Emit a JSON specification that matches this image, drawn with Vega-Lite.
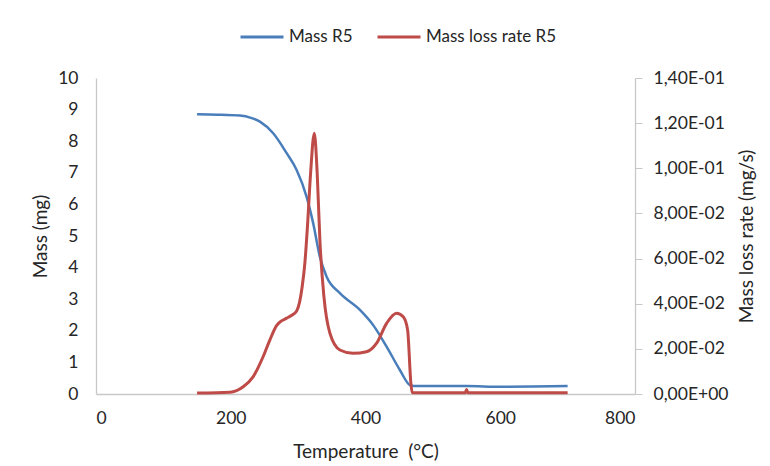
{
  "$schema": "https://vega.github.io/schema/vega-lite/v6.json",
  "autosize": {"type": "none"},
  "width": 539,
  "height": 316,
  "padding": {"left": 96, "top": 78, "right": 135, "bottom": 72},
  "background": "white",
  "config": {
    "view": {"stroke": null},
    "font": "Lato",
    "axis": {"grid": false, "domainColor": "#C8C8C8", "domainWidth": 1.3, "tickColor": "#C8C8C8", "labelFont": "Lato", "titleFont": "Lato", "labelColor": "#262626", "titleColor": "#262626", "labelFontSize": 17.5, "titleFontSize": 19, "titleFontWeight": "normal"},
    "legend": {"labelFont": "Lato", "labelFontSize": 17, "labelColor": "#262626"}
  },
  "datasets": {
    "massR5": [
      {"T": 150, "mass": 8.85}, {"T": 180, "mass": 8.84}, {"T": 213.6, "mass": 8.81}, {"T": 230, "mass": 8.74},
      {"T": 243.3, "mass": 8.62}, {"T": 263, "mass": 8.25}, {"T": 283, "mass": 7.62}, {"T": 297.8, "mass": 7.09},
      {"T": 312.6, "mass": 6.24}, {"T": 322.4, "mass": 5.4}, {"T": 332.3, "mass": 4.34}, {"T": 342.3, "mass": 3.71},
      {"T": 362, "mass": 3.19}, {"T": 391.7, "mass": 2.66}, {"T": 411.4, "mass": 2.18}, {"T": 431.3, "mass": 1.5},
      {"T": 451, "mass": 0.76}, {"T": 465.9, "mass": 0.28}, {"T": 472, "mass": 0.25}, {"T": 550, "mass": 0.25},
      {"T": 600, "mass": 0.23}, {"T": 650, "mass": 0.24}, {"T": 700, "mass": 0.25}
    ],
    "rateR5": [
      {"T": 150, "rate": 0.0004}, {"T": 199, "rate": 0.0008}, {"T": 218.5, "rate": 0.0032}, {"T": 233.4, "rate": 0.0077},
      {"T": 248, "rate": 0.0165}, {"T": 258, "rate": 0.0239}, {"T": 268, "rate": 0.0303}, {"T": 276, "rate": 0.0325},
      {"T": 283, "rate": 0.0336}, {"T": 290, "rate": 0.0348}, {"T": 297.8, "rate": 0.0368}, {"T": 302, "rate": 0.0405},
      {"T": 306, "rate": 0.0475}, {"T": 310, "rate": 0.058}, {"T": 314, "rate": 0.075}, {"T": 318.5, "rate": 0.0978},
      {"T": 324, "rate": 0.1155}, {"T": 328.3, "rate": 0.0978}, {"T": 332.3, "rate": 0.0682}, {"T": 338.3, "rate": 0.0431},
      {"T": 347.2, "rate": 0.0269}, {"T": 362, "rate": 0.0195}, {"T": 381.7, "rate": 0.018}, {"T": 401.6, "rate": 0.0187},
      {"T": 416.5, "rate": 0.0225}, {"T": 431.3, "rate": 0.0313}, {"T": 446, "rate": 0.0358}, {"T": 456, "rate": 0.0342},
      {"T": 462.5, "rate": 0.0284}, {"T": 467.4, "rate": 0.0047}, {"T": 469.3, "rate": 0.0006}, {"T": 548, "rate": 0.0006},
      {"T": 550, "rate": 0.002}, {"T": 552, "rate": 0.0006}, {"T": 700, "rate": 0.0006}
    ]
  },
  "encoding": {
    "x": {"field": "T", "type": "quantitative", "scale": {"domain": [0, 800], "nice": false},
      "axis": {"values": [0, 200, 400, 600, 800], "ticks": false, "tickSize": 0, "labelPadding": 15, "title": "Temperature\u00a0 (°C)", "titlePadding": 16}}
  },
  "layer": [
    {
      "data": {"name": "massR5"},
      "mark": {"type": "line", "strokeWidth": 2.5, "interpolate": "monotone"},
      "encoding": {
        "y": {"field": "mass", "type": "quantitative", "scale": {"domain": [0, 10], "nice": false},
          "axis": {"orient": "left", "values": [0,1,2,3,4,5,6,7,8,9,10], "ticks": false, "tickSize": 0, "labelPadding": 18, "title": "Mass (mg)", "titlePadding": 7}},
        "color": {"datum": "Mass R5", "type": "nominal",
          "scale": {"domain": ["Mass R5", "Mass loss rate R5"], "range": ["#4A7EBB", "#BE4B48"]},
          "legend": {"title": null, "orient": "none", "direction": "horizontal", "legendX": 143, "legendY": -64, "symbolType": "stroke", "symbolSize": 1849, "symbolStrokeWidth": 3, "labelOffset": 4, "columnPadding": 18}}
      }
    },
    {
      "data": {"name": "rateR5"},
      "mark": {"type": "line", "strokeWidth": 3, "interpolate": "monotone"},
      "encoding": {
        "y": {"field": "rate", "type": "quantitative", "scale": {"domain": [0, 0.14], "nice": false},
          "axis": {"orient": "right", "values": [0, 0.02, 0.04, 0.06, 0.08, 0.1, 0.12, 0.14], "tickSize": 7, "labelPadding": 11,
            "labelExpr": "datum.value == 0 ? '0,00E+00' : (datum.value < 0.099 ? replace(format(datum.value*100, '.2f'), '.', ',') + 'E-02' : replace(format(datum.value*10, '.2f'), '.', ',') + 'E-01')",
            "title": "Mass loss rate (mg/s)", "titleAngle": 270, "titleBaseline": "top", "titlePadding": 10}},
        "color": {"datum": "Mass loss rate R5", "type": "nominal"}
      }
    }
  ],
  "resolve": {"scale": {"y": "independent"}}
}
